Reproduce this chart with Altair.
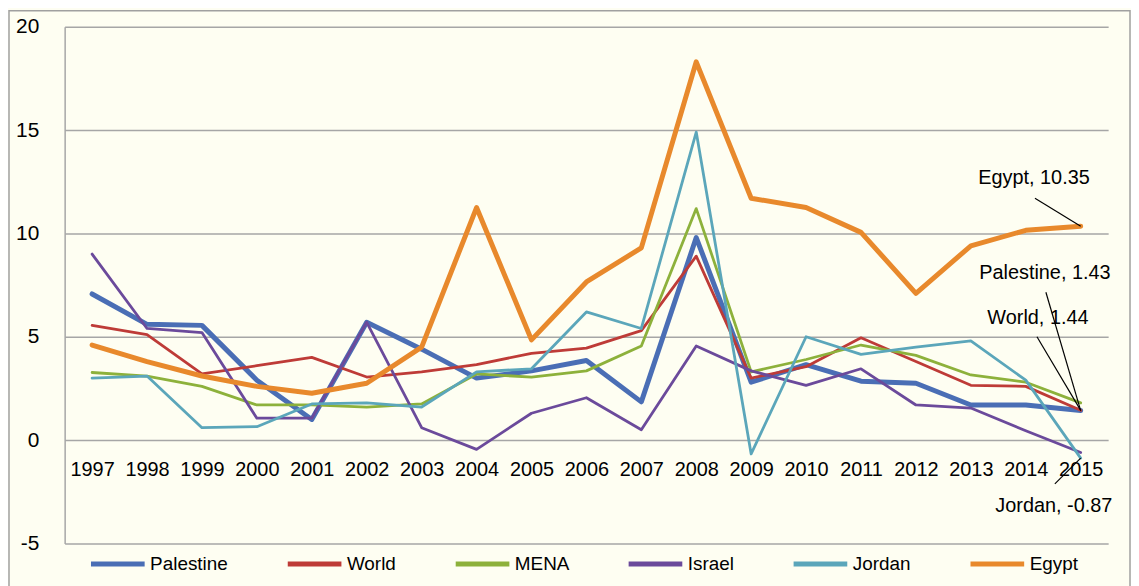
import altair as alt
import pandas as pd

years = [str(y) for y in range(1997, 2016)]
series_names = ["Palestine", "World", "MENA", "Israel", "Jordan", "Egypt"]

palestine = [7.07, 5.6, 5.55, 2.9, 1.0, 5.7, 4.4, 3.0, 3.35, 3.85, 1.85, 9.8, 2.8, 3.65, 2.85, 2.75, 1.7, 1.7, 1.43]
world = [5.55, 5.1, 3.2, 3.6, 4.0, 3.05, 3.3, 3.65, 4.2, 4.45, 5.3, 8.9, 3.0, 3.55, 4.95, 3.8, 2.65, 2.6, 1.44]
mena = [3.27, 3.1, 2.6, 1.7, 1.7, 1.6, 1.75, 3.2, 3.05, 3.35, 4.55, 11.2, 3.3, 3.9, 4.6, 4.1, 3.15, 2.8, 1.8]
israel = [9.0, 5.4, 5.2, 1.06, 1.06, 5.7, 0.6, -0.45, 1.3, 2.05, 0.5, 4.55, 3.35, 2.65, 3.45, 1.7, 1.55, 0.45, -0.6]
jordan = [3.0, 3.1, 0.6, 0.65, 1.75, 1.8, 1.6, 3.3, 3.45, 6.2, 5.4, 14.9, -0.67, 5.0, 4.15, 4.5, 4.8, 2.9, -0.87]
egypt = [4.6, 3.8, 3.1, 2.6, 2.27, 2.75, 4.5, 11.25, 4.85, 7.65, 9.3, 18.3, 11.7, 11.25, 10.05, 7.1, 9.4, 10.15, 10.35]

colors = ["#4A6EB5", "#BE3B37", "#8DB13B", "#6B4A9B", "#5BA6BA", "#E8892C"]
thick_series = ["Palestine", "Egypt"]

ann_series = ["Egypt", "Palestine", "World", "Jordan"]
ann_labels = ["Egypt, 10.35", "Palestine, 1.43", "World, 1.44", "Jordan, -0.87"]
ann_values = [egypt[-1], palestine[-1], world[-1], jordan[-1]]
# (text dx, text dy, leader dx, leader dy) in pixels
ann_offsets = [(-47, -48, -46, -28), (-36, -138, -35, -119), (-43, -93, -44, -74), (-27, 48, -26, 26)]

rows = []
for name, vals in zip(series_names, [palestine, world, mena, israel, jordan, egypt]):
    for y, v in zip(years, vals):
        rows.append({"year": y, "value": v, "series": name})
df = pd.DataFrame(rows)

ann_df = pd.DataFrame({"series": ann_series, "label": ann_labels, "value": ann_values,
                       "year": [years[-1]] * len(ann_series)})

x_enc = alt.X("year:O", scale=alt.Scale(type="point", padding=0.5),
              axis=alt.Axis(title=None, labelAngle=0, offset=-104, domain=False, ticks=False,
                            tickSize=0, labelPadding=20, labelFontSize=20, labelColor="#000000",
                            grid=False))
y_enc = alt.Y("value:Q", scale=alt.Scale(domain=[-5, 20], nice=False, zero=False),
              axis=alt.Axis(title=None, values=[-5, 0, 5, 10, 15, 20], labelFontSize=21,
                            labelExpr="toString(datum.value)",
                            labelPadding=26, ticks=False, tickSize=0, grid=True,
                            gridColor="#A6A6A6", gridWidth=1.5, domainColor="#A6A6A6",
                            domainWidth=1.5, labelColor="#000000"))

frame = alt.Chart(pd.DataFrame({"k": [0]})).mark_rect(
    fillOpacity=0, stroke="#A0A0A0", strokeWidth=1.5
).encode(x=alt.value(-56), x2=alt.value(1072), y=alt.value(-16), y2=alt.value(600))

thick_test = " || ".join(f"datum.series == '{s}'" for s in thick_series)

lines = alt.Chart(df).mark_line(strokeCap="round", strokeJoin="round").encode(
    x=x_enc,
    y=y_enc,
    color=alt.Color("series:N", scale=alt.Scale(domain=series_names, range=colors),
                    legend=alt.Legend(title=None, orient="none", legendX=24, legendY=511,
                                      direction="horizontal", columns=6, symbolType="stroke",
                                      symbolSize=2916, symbolStrokeWidth=5, labelFontSize=19,
                                      labelColor="#000000", columnPadding=49, labelOffset=3,
                                      padding=0, gridAlign="each")),
    strokeWidth=alt.condition(thick_test, alt.value(5), alt.value(2.8)),
)

layers = [frame, lines]
for name, (tdx, tdy, ldx, ldy) in zip(ann_series, ann_offsets):
    base = alt.Chart(ann_df).transform_filter(alt.datum.series == name)
    rule = base.mark_rule(color="#000000", strokeWidth=1.2, x2Offset=ldx, y2Offset=ldy).encode(
        x=x_enc, y=y_enc, x2="year:O", y2="value:Q")
    txt = base.mark_text(align="center", baseline="middle", fontSize=20, color="#000000",
                         dx=tdx, dy=tdy).encode(x=x_enc, y=y_enc, text="label:N")
    layers += [rule, txt]

chart = alt.layer(*layers).properties(
    width=1050, height=520,
    padding={"left": 57, "top": 17, "right": 23, "bottom": 41},
    autosize=alt.AutoSizeParams(type="none"),
    background="#FEFEF2",
).configure(font="Liberation Sans").configure_view(stroke=None)

chart.save("out.html", embed_options={"renderer": "svg", "actions": False})
